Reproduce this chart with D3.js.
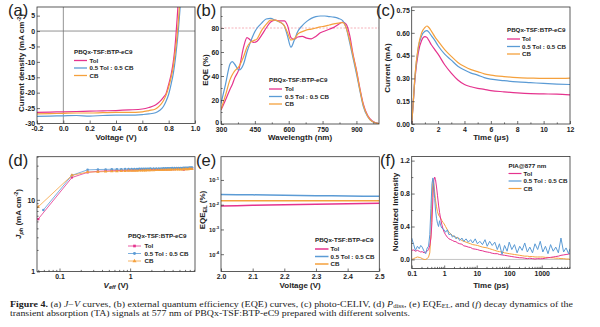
<!DOCTYPE html>
<html><head><meta charset="utf-8">
<script src="https://cdn.jsdelivr.net/npm/d3@7/dist/d3.min.js"></script>
<style>body{margin:0;background:#fff}svg{display:block}</style>
</head><body><svg id="c" width="600" height="327"></svg>
<script>
// ---------- data ----------
const seriesNames = ['Tol', '0.5 Tol : 0.5 CB', 'CB'];

// (a) J-V
const jvVoltage = [-0.2,-0.1,0,0.1,0.2,0.3,0.4,0.5,0.6,0.65,0.7,0.73,0.76,0.78,0.8,0.82,0.835,0.845,0.855,0.865,0.875,0.885,0.895];
const jvTol = [-26.4,-26.3,-26.2,-26.1,-26.0,-25.9,-25.8,-25.6,-25.3,-24.8,-24.0,-23.0,-21.5,-20.3,-17.3,-13.8,-10.0,-6.5,-1.5,4.5,11,18,25];
const jvMix = [-27.7,-27.6,-27.5,-27.4,-27.6,-27.4,-27.3,-27.3,-27.1,-26.9,-26.5,-25.8,-24.5,-22.8,-20.5,-17.0,-13.8,-11.0,-7.5,-3.5,1.0,6.5,13];
const jvCB = [-26.9,-26.8,-26.7,-26.6,-26.6,-26.5,-26.4,-26.4,-26.2,-25.8,-25.3,-24.3,-22.6,-20.8,-18.2,-14.8,-11.6,-8.4,-5.0,-1.0,4.0,10,17];
const jvXTicks = [-0.2,0,0.2,0.4,0.6,0.8,1.0];
const jvYTicks = [-30,-25,-20,-15,-10,-5,0,5];

// (b) EQE
const eqeWavelength = [300,320,340,350,360,380,400,415,430,445,460,480,500,520,540,560,580,595,610,625,640,660,680,700,720,740,760,780,800,820,840,855,870,885,900,915,930,950,970,1000];
const eqeTol = [11.6,20,29,33,38,46,64,72,70,68,69,74,80,85,86.5,86,86,82,72,70.5,72.5,73,71.5,71,73,76,77.5,79,80.5,83,85,83,74,58,45,30,17,7,2.5,0.3];
const eqeMix = [17,33,50,52,50,45,50,60,68,75,80,84,87.5,88,86.5,85,82,73,64,70,77,82,85.5,88,89.5,90,90,89.5,89,88,86,80,68,55,42,28,15,6,2,0.3];
const eqeCB = [12,24,37,41,44,48,56,64,68,69.5,71,78,83,86.5,86.5,85,82,76,70,71,75,77,78.5,79,80,81,81.5,82.5,83.5,84,84.5,80,70,57,44,29,16,6.5,2,0.3];
const eqeXTicks = [300,450,600,750,900];
const eqeYTicks = [0,20,40,60,80];

// (c) photo-CELIV
const celivTime = [0,0.1,0.25,0.5,0.75,1.0,1.15,1.3,1.5,1.75,2,2.5,3,3.5,4,4.5,5,5.5,6,7,8,9,10,11,12];
const celivTol = [0,0.12,0.3,0.47,0.55,0.575,0.57,0.55,0.52,0.49,0.46,0.39,0.335,0.29,0.26,0.245,0.235,0.228,0.22,0.212,0.205,0.2,0.198,0.196,0.192];
const celivMix = [0,0.12,0.31,0.5,0.58,0.61,0.615,0.605,0.58,0.55,0.515,0.46,0.42,0.38,0.355,0.335,0.322,0.305,0.295,0.285,0.277,0.272,0.267,0.263,0.26];
const celivCB = [0,0.12,0.32,0.51,0.6,0.635,0.645,0.635,0.61,0.575,0.545,0.49,0.445,0.405,0.378,0.358,0.345,0.33,0.322,0.312,0.305,0.302,0.3,0.3,0.302];
const celivXTicks = [0,2,4,6,8,10,12];
const celivYTicks = [0,0.15,0.3,0.45,0.6,0.75];

// (d) Jph vs Veff
const veff = [0.05,0.15,0.25,0.35,0.45,0.55,0.65,0.75,0.85,0.95,1.05,1.15,1.25,1.35,1.45,1.55,1.65,1.75,1.85,1.95,2.15,2.35,2.55,2.75,2.95,3.15,3.35,3.55,3.75,3.95,4.25,4.55,4.85,5.15,5.45,5.75,6.05,6.35,6.65,6.95,7.25,7.55];
const veffMix = [0.059,0.15,0.25,0.35,0.45,0.55,0.65,0.75,0.85,0.95,1.05,1.15,1.25,1.35,1.45,1.55,1.65,1.75,1.85,1.95,2.15,2.35,2.55,2.75,2.95,3.15,3.35,3.55,3.75,3.95,4.25,4.55,4.85,5.15,5.45,5.75,6.05,6.35,6.65,6.95,7.25,7.55];
const jphTol = [5.4,20.5,24.2,25.0,25.3,25.5,25.6,25.7,25.8,25.9,26.0,26.0,26.1,26.1,26.2,26.2,26.3,26.3,26.3,26.4,26.4,26.5,26.5,26.6,26.6,26.7,26.7,26.8,26.8,26.9,26.9,27.0,27.0,27.1,27.1,26.5,27.2,27.3,27.3,27.4,27.4,27.5];
const jphMix = [7.2,22.0,26.2,26.5,26.6,26.7,26.8,26.8,26.9,26.9,27.0,27.0,27.0,27.1,27.1,27.1,27.2,27.2,27.2,27.3,27.3,27.3,27.4,27.4,27.5,27.5,27.6,27.6,27.6,27.7,27.7,27.8,27.8,27.9,27.9,28.0,28.0,28.1,28.1,28.2,28.2,28.3];
const jphCB = [8.0,22.0,24.4,24.6,24.8,25.0,25.1,25.2,25.3,25.4,25.4,25.5,25.5,25.6,25.6,25.7,25.7,25.8,25.8,25.9,25.9,26.0,26.0,26.1,26.1,26.2,26.2,26.3,26.3,26.4,26.4,26.5,26.5,26.6,26.6,26.7,26.7,26.8,26.8,26.9,26.9,27.0];

// (e) EQE_EL
const elVoltage = [2.0,2.05,2.1,2.15,2.2,2.25,2.3,2.35,2.4,2.45,2.5];
const eqeElTol = [0.0088,0.0091,0.0094,0.0097,0.0099,0.0102,0.0104,0.0106,0.0109,0.0112,0.0115];
const eqeElMix = [0.026,0.0255,0.025,0.0245,0.024,0.0235,0.023,0.0228,0.0225,0.0222,0.022];
const eqeElCB = [0.0145,0.0146,0.0146,0.0145,0.0144,0.0144,0.0143,0.0143,0.0144,0.0145,0.0146];
const elXTicks = [2.0,2.1,2.2,2.3,2.4,2.5];
const elYTicks = [1e-1,1e-2,1e-3,1e-4];

// (f) TA decay
const taTime = [0.1,0.115,0.13,0.15,0.17,0.19,0.21,0.24,0.27,0.3,0.33,0.36,0.39,0.42,0.45,0.48,0.51,0.54,0.58,0.62,0.67,0.72,0.78,0.85,0.92,1.0,1.1,1.25,1.4,1.6,1.8,2.0,2.3,2.6,3.0,3.5,4.0,4.7,5.5,6.5,7.5,9,10.5,12.5,15,18,21,25,30,36,43,50,60,72,86,100,120,145,175,210,250,300,360,430,520,620,750,900,1080,1300,1560,1870,2250,2700,3250,3900,4700,5600,6700,7400];
const taTol = [0.11,0.115,0.10,0.11,0.10,0.09,0.095,0.08,0.09,0.10,0.12,0.17,0.26,0.45,0.75,0.96,1.0,0.97,0.88,0.78,0.66,0.57,0.49,0.42,0.37,0.33,0.30,0.27,0.25,0.24,0.23,0.22,0.215,0.2,0.19,0.185,0.165,0.16,0.15,0.145,0.13,0.125,0.12,0.11,0.105,0.095,0.09,0.085,0.075,0.07,0.07,0.06,0.055,0.05,0.045,0.04,0.035,0.03,0.025,0.02,0.02,0.015,0.01,0.015,0.01,0.005,0.01,0.008,0.01,0.015,0.02,0.025,0.03,0.035,0.04,0.05,0.055,0.06,0.065,0.07];
const taMix = [0.26,0.18,0.11,0.16,0.13,0.17,0.15,0.10,0.07,0.14,0.16,0.30,0.62,0.92,0.99,0.88,0.74,0.60,0.50,0.44,0.40,0.47,0.41,0.38,0.37,0.36,0.33,0.36,0.30,0.31,0.27,0.29,0.25,0.27,0.23,0.26,0.22,0.25,0.21,0.24,0.20,0.25,0.19,0.22,0.18,0.24,0.16,0.22,0.17,0.21,0.12,0.19,0.06,0.17,0.10,0.21,0.12,0.18,0.08,0.16,0.11,0.20,0.09,0.15,0.08,0.19,0.12,0.22,0.09,0.16,0.07,0.18,0.10,0.15,0.08,0.26,0.09,0.14,0.07,0.13];
const taCB = [0.00,0.01,0.02,0.03,0.025,0.02,0.01,0.00,0.00,0.01,0.03,0.08,0.30,0.72,0.97,0.92,0.82,0.72,0.64,0.58,0.54,0.52,0.50,0.47,0.45,0.43,0.40,0.36,0.33,0.31,0.29,0.28,0.27,0.26,0.25,0.23,0.22,0.21,0.20,0.19,0.18,0.175,0.17,0.16,0.15,0.145,0.14,0.13,0.12,0.11,0.10,0.095,0.09,0.08,0.075,0.07,0.065,0.06,0.055,0.05,0.045,0.04,0.04,0.035,0.035,0.03,0.03,0.03,0.03,0.025,0.025,0.02,0.02,0.015,0.015,0.01,0.01,0.005,0.005,0.0];
const taXTicks = [0.1,1,10,100,1000];
const taYTicks = [0,0.4,0.8,1.2];

// ---------- drawing ----------
const COL = ['#E5338E', '#5B9BD5', '#F5A13D'];
const FONT = '"Liberation Sans", Arial, sans-serif';
const svg = d3.select('#c');
const defs = svg.append('defs');
let clipN = 0;

function clipFor(b) {
  const id = 'cl' + (clipN++);
  defs.append('clipPath').attr('id', id).append('rect')
    .attr('x', b.x0).attr('y', b.y0).attr('width', b.x1 - b.x0).attr('height', b.y1 - b.y0);
  return 'url(#' + id + ')';
}
function styleAxis(g) {
  g.select('.domain').remove();
  g.attr('font-family', FONT).attr('font-size', 6.9).attr('font-weight', 'bold');
  g.selectAll('text').attr('fill', '#222');
  g.selectAll('line').attr('stroke', '#333').attr('stroke-width', 0.7);
}
function xAxis(b, sc, vals, fmt, minor) {
  const g = svg.append('g').attr('transform', `translate(0,${b.y1})`)
    .call(d3.axisBottom(sc).tickValues(vals).tickFormat(fmt).tickSizeInner(-3).tickSizeOuter(0).tickPadding(3.1));
  styleAxis(g);
  if (minor) {
    const m = svg.append('g').attr('transform', `translate(0,${b.y1})`)
      .call(d3.axisBottom(sc).tickValues(minor).tickFormat('').tickSizeInner(-1.6).tickSizeOuter(0));
    styleAxis(m);
  }
  return g;
}
function yAxis(b, sc, vals, fmt, minor) {
  const g = svg.append('g').attr('transform', `translate(${b.x0},0)`)
    .call(d3.axisLeft(sc).tickValues(vals).tickFormat(fmt).tickSizeInner(-3).tickSizeOuter(0).tickPadding(1.8));
  styleAxis(g);
  if (minor) {
    const m = svg.append('g').attr('transform', `translate(${b.x0},0)`)
      .call(d3.axisLeft(sc).tickValues(minor).tickFormat('').tickSizeInner(-1.6).tickSizeOuter(0));
    styleAxis(m);
  }
  return g;
}
function frame(b) {
  svg.append('rect').attr('x', b.x0).attr('y', b.y0).attr('width', b.x1 - b.x0).attr('height', b.y1 - b.y0)
    .attr('fill', 'none').attr('stroke', '#333').attr('stroke-width', 0.8);
}
function drawLine(clip, xs, ys, sx, sy, color, w, curve) {
  const pts = xs.map((x, i) => [x, ys[i]]);
  svg.append('path').attr('clip-path', clip).datum(pts)
    .attr('d', d3.line().x(d => sx(d[0])).y(d => sy(d[1])).curve(curve || d3.curveLinear))
    .attr('fill', 'none').attr('stroke', color).attr('stroke-width', w).attr('stroke-linejoin', 'round');
}
function title(x, y, txt, rot) {
  const t = svg.append('text').attr('font-family', FONT).attr('font-weight', 'bold').attr('font-size', 8)
    .attr('fill', '#222').attr('text-anchor', 'middle');
  if (rot) t.attr('transform', `translate(${x},${y}) rotate(-90)`); else t.attr('x', x).attr('y', y);
  return t.text(txt);
}
function panelLabel(x, y, s) {
  svg.append('text').attr('x', x).attr('y', y).attr('font-family', FONT).attr('font-size', 16.5)
    .attr('fill', '#222').text(s);
}
function legend(x0, x1, tx, yT, ys, head, lw, markers) {
  svg.append('text').attr('x', x0).attr('y', yT).attr('font-family', FONT).attr('font-weight', 'bold')
    .attr('font-size', 6.2).attr('fill', '#222').text(head);
  seriesNames.forEach((n, i) => {
    svg.append('line').attr('x1', x0).attr('x2', x1).attr('y1', ys[i]).attr('y2', ys[i])
      .attr('stroke', COL[i]).attr('stroke-width', lw);
    if (markers) {
      svg.append('path').attr('d', d3.symbol().type(markers[i]).size(7)())
        .attr('transform', `translate(${(x0 + x1) / 2},${ys[i]})`).attr('fill', COL[i]);
    }
    svg.append('text').attr('x', tx).attr('y', ys[i] + 2.2).attr('font-family', FONT).attr('font-weight', 'bold')
      .attr('font-size', 6.2).attr('fill', '#222').text(n);
  });
}
const f1 = d => d.toFixed(1), f2 = d => d.toFixed(2), f0 = d => String(d);

// ----- (a) -----
{
  const b = {x0: 37, x1: 195, y0: 7, y1: 123.5};
  const x = d3.scaleLinear().domain([-0.2, 1.0]).range([b.x0, b.x1]);
  const y = d3.scaleLinear().domain([-30, 7.8]).range([b.y1, b.y0]);
  const cl = clipFor(b);
  svg.append('line').attr('x1', x(0)).attr('x2', x(0)).attr('y1', b.y0).attr('y2', b.y1).attr('stroke', '#777').attr('stroke-width', 0.8);
  svg.append('line').attr('x1', b.x0).attr('x2', b.x1).attr('y1', y(0)).attr('y2', y(0)).attr('stroke', '#777').attr('stroke-width', 0.8);
  [jvTol, jvMix, jvCB].forEach((s, i) => drawLine(cl, jvVoltage, s, x, y, COL[i], 1.2, d3.curveMonotoneX));
  frame(b);
  xAxis(b, x, jvXTicks, f1);
  yAxis(b, y, jvYTicks, f0);
  title((b.x0 + b.x1) / 2, 139.5, 'Voltage (V)');
  const t = title(24, 63, 'Current density (mA cm', true);
  t.append('tspan').attr('dy', -3).attr('font-size', 5.5).text('-2');
  t.append('tspan').attr('dy', 3).text(')');
  panelLabel(8, 15.5, '(a)');
  legend(74, 87, 89.5, 54, [60.5, 68, 75.5], 'PBQx-TSF:BTP-eC9', 1.3);
}
// ----- (b) -----
{
  const b = {x0: 221, x1: 379, y0: 7, y1: 124};
  const x = d3.scaleLinear().domain([300, 1000]).range([b.x0, b.x1]);
  const y = d3.scaleLinear().domain([0, 97.5]).range([b.y1, b.y0]);
  const cl = clipFor(b);
  svg.append('line').attr('x1', b.x0).attr('x2', b.x1).attr('y1', y(80)).attr('y2', y(80))
    .attr('stroke', '#f2a0a8').attr('stroke-width', 0.8).attr('stroke-dasharray', '2,1.5');
  [eqeTol, eqeMix, eqeCB].forEach((s, i) => drawLine(cl, eqeWavelength, s, x, y, COL[i], 1.2, d3.curveMonotoneX));
  frame(b);
  xAxis(b, x, eqeXTicks, f0, [375, 525, 675, 825, 975]);
  const gy = yAxis(b, y, eqeYTicks, f0, [10, 30, 50, 70, 90]);
  gy.selectAll('.tick text').filter(d => d === 0).attr('dy', '0.05em');
  title((b.x0 + b.x1) / 2, 139.5, 'Wavelength (nm)');
  title(208, 70, 'EQE (%)', true);
  panelLabel(196, 15.5, '(b)');
  legend(269, 282, 285, 82, [89, 96.5, 104], 'PBQx-TSF:BTP-eC9', 1.3);
}
// ----- (c) -----
{
  const b = {x0: 411.7, x1: 570, y0: 7, y1: 124};
  const x = d3.scaleLinear().domain([0, 12]).range([b.x0, b.x1]);
  const y = d3.scaleLinear().domain([0, 0.77]).range([b.y1, b.y0]);
  const cl = clipFor(b);
  [celivTol, celivMix, celivCB].forEach((s, i) => drawLine(cl, celivTime, s, x, y, COL[i], 1.2, d3.curveMonotoneX));
  frame(b);
  xAxis(b, x, celivXTicks, f0, [1, 3, 5, 7, 9, 11]);
  yAxis(b, y, celivYTicks, f2);
  title((b.x0 + b.x1) / 2, 139.5, 'Time (\u03bcs)');
  title(390, 68, 'Current (mA)', true);
  panelLabel(376, 15.5, '(c)');
  legend(507, 520, 522, 32, [39, 46.5, 54], 'PBQx-TSF:BTP-eC9', 1.3);
}
// ----- (d) -----
{
  const b = {x0: 37, x1: 195, y0: 156.7, y1: 271.5};
  const x = d3.scaleLog().domain([0.048, 8.3]).range([b.x0, b.x1]);
  const y = d3.scaleLog().domain([1, 40]).range([b.y1, b.y0]);
  const cl = clipFor(b);
  const xs = [veff, veffMix, veff];
  const sym = [d3.symbolSquare, d3.symbolCircle, d3.symbolTriangle];
  [jphTol, jphMix, jphCB].forEach((s, i) => {
    drawLine(cl, xs[i], s, x, y, COL[i], 0.8);
    svg.append('g').attr('clip-path', cl).selectAll('path').data(s).join('path')
      .attr('d', d3.symbol().type(sym[i]).size(5)())
      .attr('transform', (d, j) => `translate(${x(xs[i][j])},${y(d)})`).attr('fill', COL[i]);
  });
  frame(b);
  xAxis(b, x, [0.1, 1], f0, [0.05,0.06,0.07,0.08,0.09,0.2,0.3,0.4,0.5,0.6,0.7,0.8,0.9,2,3,4,5,6,7,8]);
  yAxis(b, y, [1, 10], f0, [2,3,4,5,6,7,8,9,20,30,40]);
  const tx = title((b.x0 + b.x1) / 2, 287.5, 'V');
  tx.attr('font-style', 'italic');
  tx.append('tspan').attr('dy', 1.8).attr('font-size', 5.5).text('eff');
  tx.append('tspan').attr('dy', -1.8).attr('font-style', 'normal').text(' (V)');
  const ty = title(21, 214, 'J', true);
  ty.attr('font-style', 'italic');
  ty.append('tspan').attr('dy', 1.8).attr('font-size', 5.5).text('ph');
  ty.append('tspan').attr('dy', -1.8).attr('font-style', 'normal').text(' (mA cm');
  ty.append('tspan').attr('dy', -3).attr('font-size', 5.5).attr('font-style', 'normal').text('-2');
  ty.append('tspan').attr('dy', 3).attr('font-style', 'normal').text(')');
  panelLabel(8, 166, '(d)');
  legend(128, 141, 144.5, 238, [246, 253.5, 261], 'PBQx-TSF:BTP-eC9', 0.8, sym);
}
// ----- (e) -----
{
  const b = {x0: 221, x1: 379.3, y0: 156.7, y1: 271.5};
  const x = d3.scaleLinear().domain([2.0, 2.5]).range([b.x0, b.x1]);
  const y = d3.scaleLog().domain([2e-5, 0.87]).range([b.y1, b.y0]);
  const cl = clipFor(b);
  [eqeElTol, eqeElMix, eqeElCB].forEach((s, i) => drawLine(cl, elVoltage, s, x, y, COL[i], 1.5));
  frame(b);
  xAxis(b, x, elXTicks, f1);
  const g = yAxis(b, y, elYTicks, d => '10');
  g.selectAll('.tick text').attr('font-size', 5.8).each(function (d) {
    d3.select(this).append('tspan').attr('dy', -2.5).attr('font-size', 4.2).text('-' + Math.round(-Math.log10(d)));
  });
  title((b.x0 + b.x1) / 2, 287.5, 'Voltage (V)');
  const ty = title(205, 210, 'EQE', true);
  ty.append('tspan').attr('dy', 1.8).attr('font-size', 5.5).text('EL');
  ty.append('tspan').attr('dy', -1.8).text(' (%)');
  panelLabel(196, 166, '(e)');
  legend(315, 328.5, 330.5, 241.5, [249, 256.5, 264], 'PBQx-TSF:BTP-eC9', 1.5);
}
// ----- (f) -----
{
  const b = {x0: 411.7, x1: 570, y0: 156.5, y1: 268.5};
  const x = d3.scaleLog().domain([0.1, 7400]).range([b.x0, b.x1]);
  const y = d3.scaleLinear().domain([-0.11, 1.25]).range([b.y1, b.y0]);
  const cl = clipFor(b);
  svg.append('line').attr('x1', b.x0).attr('x2', b.x1).attr('y1', y(0)).attr('y2', y(0))
    .attr('stroke', '#aaa').attr('stroke-width', 0.7);
  drawLine(cl, taTime, taCB, x, y, COL[2], 1.0);
  drawLine(cl, taTime, taTol, x, y, COL[0], 1.0);
  drawLine(cl, taTime, taMix, x, y, COL[1], 1.0);
  frame(b);
  const minor = [];
  [0.1, 1, 10, 100, 1000].forEach(d => [2,3,4,5,6,7,8,9].forEach(k => { if (d * k < 7400) minor.push(+(d * k).toPrecision(3)); }));
  xAxis(b, x, taXTicks, f0, minor);
  yAxis(b, y, taYTicks, f1, [0.2, 0.6, 1.0]);
  title((b.x0 + b.x1) / 2, 288, 'Time (ps)');
  title(398, 212, 'Normalized Intensity', true);
  panelLabel(380, 166, '(f)');
  legend(508.5, 521.5, 523.5, 167.5, [173.5, 181, 188.5], 'PIA@877 nm', 1.2);
}

// ----- caption -----
{
  const cap = svg.append('g').attr('font-family', '"Liberation Serif", "Times New Roman", serif').attr('font-size', 8.4).attr('fill', '#222');
  const t1 = cap.append('text').attr('x', 10).attr('y', 306.5).attr('textLength', 563).attr('lengthAdjust', 'spacingAndGlyphs');
  t1.append('tspan').attr('font-weight', 'bold').text('Figure 4.');
  t1.append('tspan').text(' (a) ');
  t1.append('tspan').attr('font-style', 'italic').text('J');
  t1.append('tspan').text('\u2212');
  t1.append('tspan').attr('font-style', 'italic').text('V');
  t1.append('tspan').text(' curves, (b) external quantum efficiency (EQE) curves, (c) photo-CELIV, (d) ');
  t1.append('tspan').attr('font-style', 'italic').text('P');
  t1.append('tspan').attr('dy', 1.5).attr('font-size', 5.8).text('diss');
  t1.append('tspan').attr('dy', -1.5).text(', (e) EQE');
  t1.append('tspan').attr('dy', 1.5).attr('font-size', 5.8).text('EL');
  t1.append('tspan').attr('dy', -1.5).text(', and (');
  t1.append('tspan').attr('font-style', 'italic').text('f');
  t1.append('tspan').text(') decay dynamics of the');
  cap.append('text').attr('x', 10).attr('y', 315.8).attr('textLength', 400).attr('lengthAdjust', 'spacingAndGlyphs')
    .text('transient absorption (TA) signals at 577 nm of PBQx-TSF:BTP-eC9 prepared with different solvents.');
}
</script></body></html>
